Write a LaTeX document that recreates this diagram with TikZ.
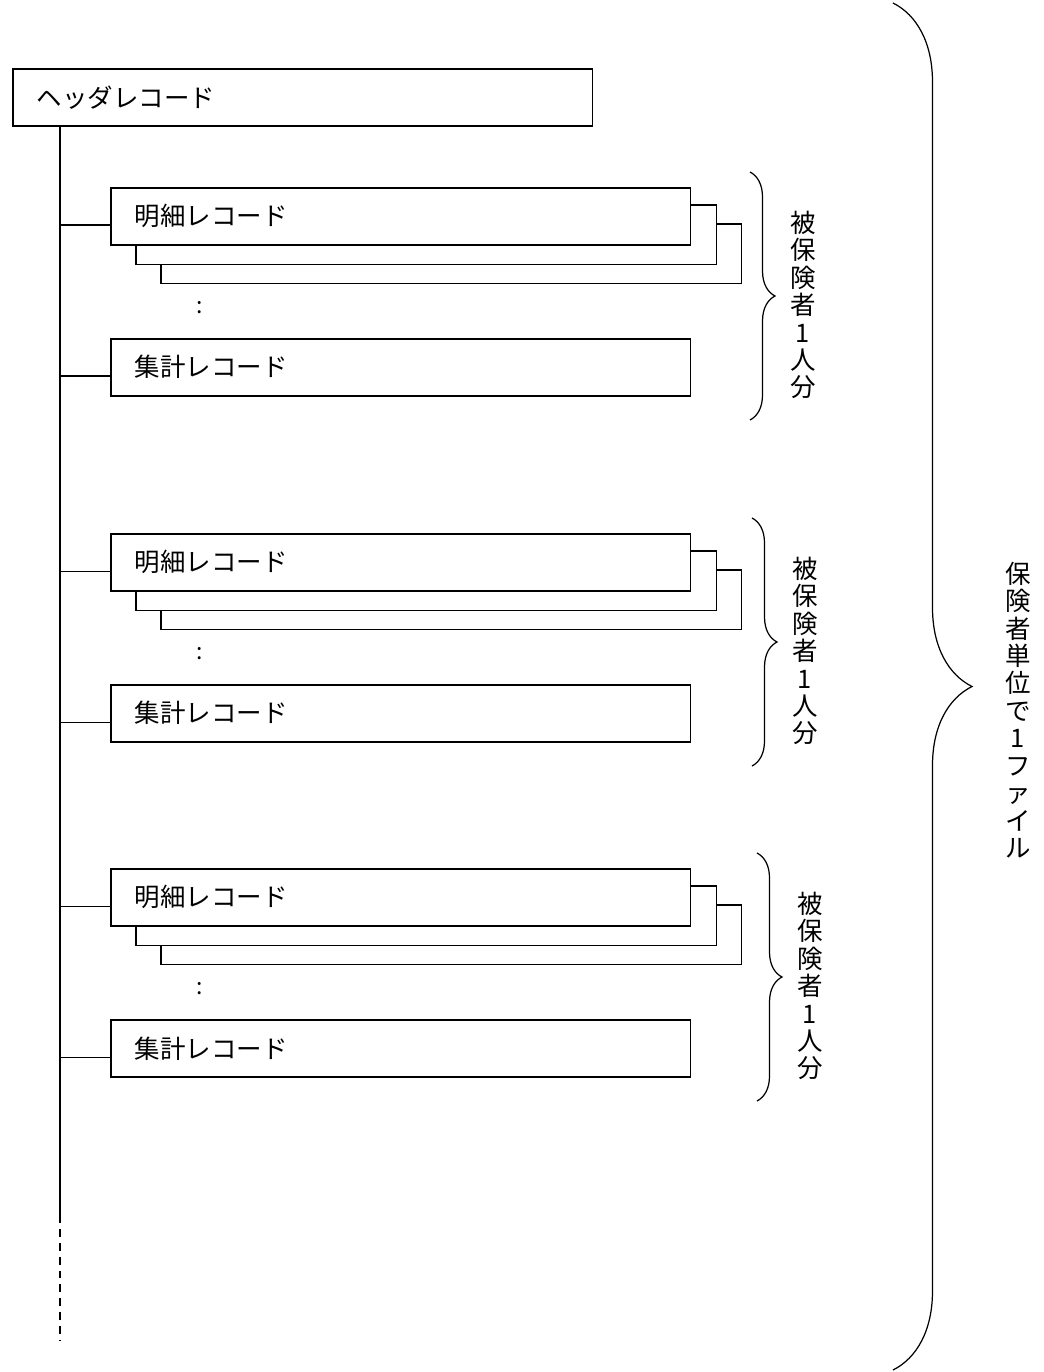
\documentclass[tikz,border=0pt]{standalone}
\usepackage{fontspec}
\setmainfont{Noto Sans CJK JP}
\usetikzlibrary{calc,positioning,decorations.pathreplacing}
\tikzset{
  rec/.style={draw,anchor=north west,minimum height=1.14cm,text width=10.64cm,
    inner xsep=0.48cm,align=left,font=\fontsize{14.5}{16}\selectfont},
  tate/.style={align=center,inner sep=0pt,font=\fontsize{14.5}{15.6}\selectfont},
  brc/.style={decorate,decoration={brace,amplitude=#1}},
}

\begin{document}
\begin{tikzpicture}[x=0.02cm,y=-0.02cm,line width=0.9pt]
    \useasboundingbox (0,0) rectangle (1044,1372);
    \node[rec] (hdr) at (12,68) {ヘッダレコード};
    \coordinate (tt) at (60,125);
    \coordinate (tm) at (60,1215);
    \coordinate (tb) at (60,1340);
    \draw (tt) -- (tm);
    \draw[dash pattern=on 4.5pt off 3.4pt] (tm) -- (tb);
    \foreach \g/\y/\bx in {1/187/750,2/533/752,3/868/757}{
      \node[rec] (meisai\g) at (110,\y) {明細レコード};
      \draw ($(meisai\g.south west)+(26,0)$) -- ++(0,19) -| ($(meisai\g.north east)+(25,18)$)
        -- ($(meisai\g.north east)+(0,18)$);
      \draw ($(meisai\g.south west)+(51,19)$) -- ++(0,19) -| ($(meisai\g.north east)+(50,37)$)
        -- ($(meisai\g.north east)+(25,37)$);
      \node (dots\g) at ($(meisai\g.north west)+(90,121)$) {\fontsize{13}{15}\selectfont :};
      \node[rec] (shukei\g) at (110,\y+151) {集計レコード};
      \coordinate (cm\g) at ($(meisai\g.west)+(0,9)$);
      \coordinate (cs\g) at ($(shukei\g.west)+(0,9)$);
      \draw (tt |- cm\g) -- (cm\g);
      \draw (tt |- cs\g) -- (cs\g);
      \draw[brc=0.5cm,line width=0.7pt] (\bx,\y-15) coordinate (bt\g) -- (\bx,\y+233) coordinate (bb\g);
      \node[tate] (hiho\g) at (\bx+53,\y+118) {被\\保\\険\\者\\1\\人\\分};
    }
    \draw[brc=1.58cm,line width=0.7pt] (893,3) coordinate (ft) -- (893,1370) coordinate (fb);
    \node[tate] (file) at (1018,710) {保\\険\\者\\単\\位\\で\\1\\フ\\ァ\\イ\\ル};
\end{tikzpicture}
\end{document}
